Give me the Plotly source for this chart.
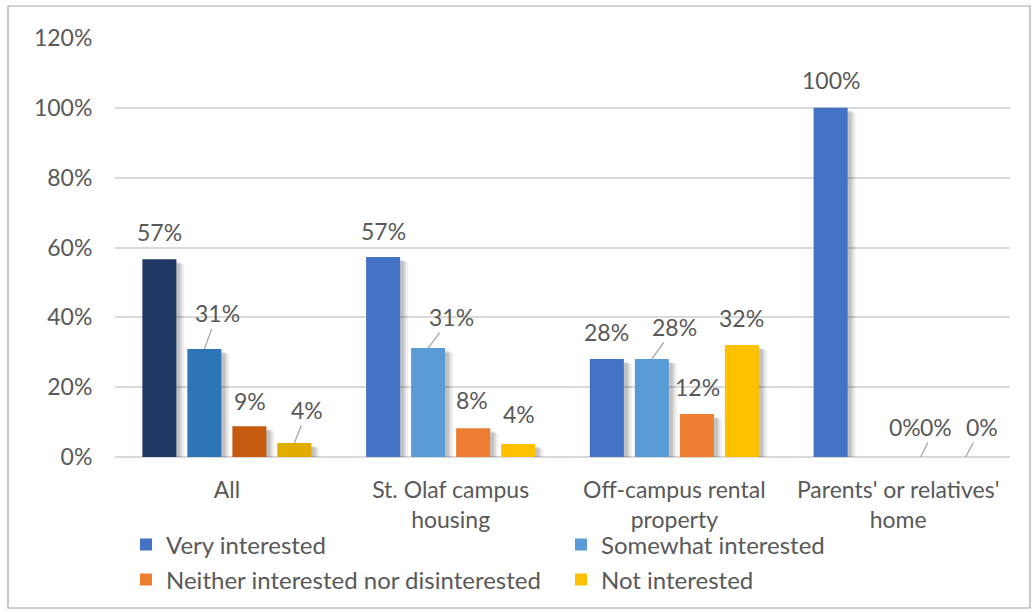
import plotly.graph_objects as go

# ---------------- data ----------------
categories = ["All", "St. Olaf campus<br>housing", "Off-campus rental<br>property",
              "Parents' or relatives'<br>home"]
series_names = ["Very interested", "Somewhat interested",
                "Neither interested nor disinterested", "Not interested"]
very_interested = [0.566, 0.573, 0.281, 1.0]
somewhat_interested = [0.309, 0.312, 0.281, 0.0]
neither = [0.088, 0.082, 0.123, 0.0]
not_interested = [0.040, 0.037, 0.321, 0.0]
y_tick_values = [0, 0.2, 0.4, 0.6, 0.8, 1.0, 1.2]

# ---------------- styles ----------------
series_colors = ["#4472C4", "#5B9BD5", "#ED7D31", "#FFC000"]
all_colors = ["#203864", "#2E75B6", "#C55A11", "#E0AC00"]   # darker shades used for "All"
FONT = "Lato, 'Open Sans', sans-serif"
TXT = "#595959"
FS = 23

# label offsets (px, from bar top) and leader-line flags, per series / category
label_dx = [[0, 0, 0, 0], [13, 23, 23, 29], [1, -1, 1, 15], [13, 1, 0, 16]]
label_dy = [[-27, -26, -27, -28], [-36, -31, -32, -30], [-25, -28, -27, -30], [-33, -30, -27, -30]]
leader = [[0, 0, 0, 0], [1, 1, 1, 0], [0, 0, 0, 1], [1, 0, 0, 1]]

values = [very_interested, somewhat_interested, neither, not_interested]

W, H = 1034, 612
L, R, T, B = 115, 24, 38, 155
BARGAP = 0.1955
GROUPGAP = 0.244
PX_PER_UNIT = (H - T - B) / 1.2

fig = go.Figure()
xs = list(range(len(categories)))
# order points so the legend swatch takes the series colour (first point drawn)
order = xs[1:] + xs[:1]
for s, (name, vals) in enumerate(zip(series_names, values)):
    colors = [all_colors[s] if c == 0 else series_colors[s] for c in order]
    fig.add_trace(go.Bar(
        x=order, y=[vals[c] for c in order], name=name,
        marker=dict(color=colors, line=dict(width=0)),
        legend="legend" if s < 2 else "legend2",
        showlegend=True,
    ))

slot = (1 - BARGAP) / len(series_names)
annotations = []
shapes = []
for s, vals in enumerate(values):
    for c, v in enumerate(vals):
        xc = c + (s - 1.5) * slot
        annotations.append(dict(
            x=xc, y=v, xref="x", yref="y",
            text=f"{round(v * 100):.0f}%",
            showarrow=True, arrowhead=0, arrowwidth=1.3, standoff=0,
            arrowcolor="#A6A6A6" if leader[s][c] else "rgba(0,0,0,0)",
            ax=label_dx[s][c], ay=label_dy[s][c],
            font=dict(family=FONT, size=FS, color=TXT),
        ))
        if v > 0:
            # soft drop shadow to the right of each bar
            for (a, b, top, alpha) in [(-14, 25, 5, 0.06), (-15, 23, 4, 0.08), (-15, 21, 3, 0.12)]:
                shapes.append(dict(
                    type="rect", xref="x", yref="y", xsizemode="pixel", xanchor=xc,
                    x0=a, x1=b, y0=0, y1=max(v - top / PX_PER_UNIT, 0),
                    fillcolor=f"rgba(0,0,0,{alpha})", line=dict(width=0), layer="between"))

shapes.append(dict(type="rect", xref="paper", yref="paper",
                   x0=(8 - L) / (W - L - R), x1=(1030 - L) / (W - L - R),
                   y0=(H - B - 608) / (H - T - B), y1=(H - B - 6) / (H - T - B),
                   line=dict(color="#A6A6A6", width=1.2), fillcolor="rgba(0,0,0,0)",
                   layer="below"))

legend_common = dict(orientation="h", xanchor="left", yanchor="middle",
                     entrywidth=390, entrywidthmode="pixels", traceorder="normal",
                     font=dict(family=FONT, size=24, color=TXT),
                     bgcolor="rgba(0,0,0,0)", xref="paper", yref="paper")

fig.update_layout(
    width=W, height=H,
    margin=dict(l=L, r=R, t=T, b=B, autoexpand=False),
    paper_bgcolor="white", plot_bgcolor="white",
    barmode="group", bargap=BARGAP, bargroupgap=GROUPGAP,
    font=dict(family=FONT, size=FS, color=TXT),
    annotations=annotations,
    legend=dict(x=(126 - L) / (W - L - R), y=(H - B - 545) / (H - T - B), **legend_common),
    legend2=dict(x=(126 - L) / (W - L - R), y=(H - B - 580) / (H - T - B), **legend_common),
    xaxis=dict(range=[-0.5, len(categories) - 0.5], tickmode="array", tickvals=xs,
               ticktext=categories, showgrid=False, zeroline=False, showline=False,
               ticks="outside", ticklen=12, tickcolor="rgba(0,0,0,0)",
               tickfont=dict(family=FONT, size=FS, color=TXT)),
    yaxis=dict(range=[0, 1.2], tickvals=y_tick_values, tickformat=".0%",
               showgrid=True, gridcolor="#D9D9D9", gridwidth=1.5,
               zeroline=True, zerolinecolor="#D9D9D9", zerolinewidth=1.5,
               showline=False, ticks="outside", ticklen=17, tickcolor="rgba(0,0,0,0)",
               tickfont=dict(family=FONT, size=FS, color=TXT)),
    shapes=shapes,
)

fig.write_html("out.html", config={"displayModeBar": False},
               post_script="document.body.style.margin='0';document.body.style.overflow='hidden';")
